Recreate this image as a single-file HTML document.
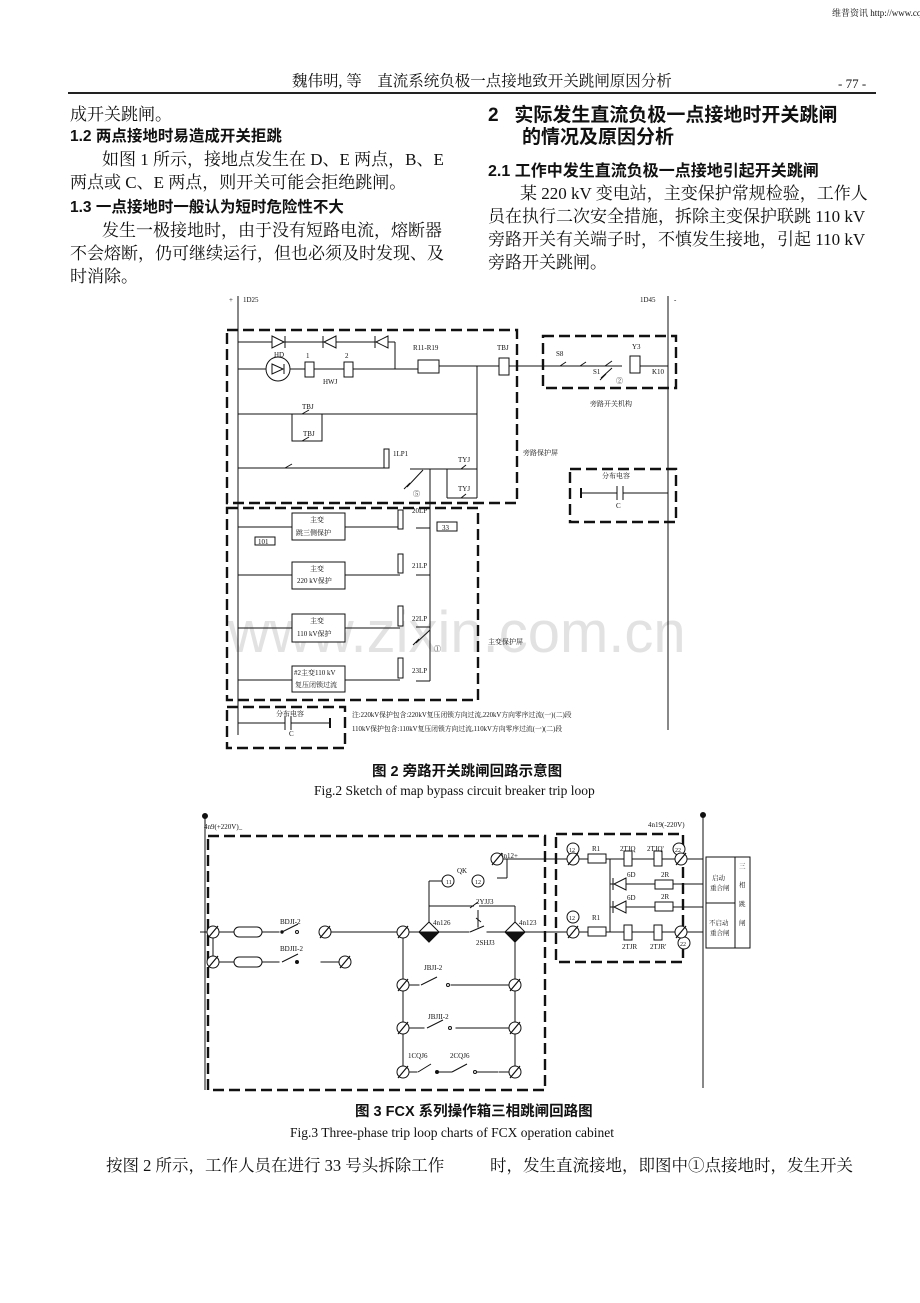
<!DOCTYPE html>
<html><head><meta charset="utf-8"><style>
body{margin:0;background:#fff;width:920px;height:1303px;position:relative;overflow:hidden;font-family:"Liberation Serif","Noto Serif CJK SC",serif;color:#111}
.t{position:absolute;white-space:nowrap;font-size:17px;line-height:20px}
.h{font-family:"Liberation Sans","Noto Sans CJK SC",sans-serif;font-weight:bold}
svg{position:absolute;left:0;top:0}
</style></head><body>
<div class="t" style="left:832px;top:3px;font-size:9px">维普资讯 http://www.cqvip.com</div>
<div class="t" style="left:292px;top:72px;font-size:15.5px">魏伟明, 等&nbsp;&nbsp;&nbsp;&nbsp;直流系统负极一点接地致开关跳闸原因分析</div>
<div class="t" style="left:838px;top:74px;font-size:13px">- 77 -</div>
<div style="position:absolute;left:68px;top:92px;width:808px;height:2px;background:#222"></div>

<div class="t" style="left:70px;top:105px">成开关跳闸。</div>
<div class="t h" style="left:70px;top:127px;font-size:15.5px">1.2 两点接地时易造成开关拒跳</div>
<div class="t" style="left:102px;top:150px">如图 1 所示，接地点发生在 D、E 两点，B、E</div>
<div class="t" style="left:70px;top:173px">两点或 C、E 两点，则开关可能会拒绝跳闸。</div>
<div class="t h" style="left:70px;top:198px;font-size:15.5px">1.3 一点接地时一般认为短时危险性不大</div>
<div class="t" style="left:102px;top:221px">发生一极接地时，由于没有短路电流，熔断器</div>
<div class="t" style="left:70px;top:244px">不会熔断，仍可继续运行，但也必须及时发现、及</div>
<div class="t" style="left:70px;top:267px">时消除。</div>

<div class="t h" style="left:488px;top:104px;font-size:19px;line-height:23px">2&nbsp;&nbsp;&nbsp;实际发生直流负极一点接地时开关跳闸</div>
<div class="t h" style="left:522px;top:126px;font-size:19px;line-height:23px">的情况及原因分析</div>
<div class="t h" style="left:488px;top:162px;font-size:16px">2.1 工作中发生直流负极一点接地引起开关跳闸</div>
<div class="t" style="left:520px;top:184px">某 220 kV 变电站，主变保护常规检验，工作人</div>
<div class="t" style="left:488px;top:207px">员在执行二次安全措施，拆除主变保护联跳 110 kV</div>
<div class="t" style="left:488px;top:230px">旁路开关有关端子时，不慎发生接地，引起 110 kV</div>
<div class="t" style="left:488px;top:253px">旁路开关跳闸。</div>

<div class="t" style="left:228px;top:600px;font-size:58px;line-height:66px;color:#e2e2e2;font-family:'Liberation Sans',sans-serif">www.zixin.com.cn</div>

<svg width="920" height="1303" viewBox="0 0 920 1303" font-family="Liberation Serif, Noto Serif CJK SC, serif" font-size="7" fill="none" stroke="#111" stroke-width="1">
<line x1="238" y1="296" x2="238" y2="735"/>
<line x1="668" y1="296" x2="668" y2="730"/>
<g fill="#111" stroke="none">
<text x="229" y="302">+</text><text x="243" y="302">1D25</text><text x="640" y="302">1D45</text><text x="674" y="302">-</text>
</g>
<g stroke-width="2.4" stroke-dasharray="11,5">
<rect x="227" y="330" width="290" height="173"/>
<rect x="543" y="336" width="133" height="52"/>
<rect x="570" y="469" width="106" height="53"/>
<rect x="227" y="508" width="251" height="192"/>
<rect x="227" y="707" width="118" height="41"/>
<rect x="208" y="836" width="337" height="254"/>
<rect x="556" y="834" width="127" height="128"/>
</g>
<line x1="238" y1="342" x2="395" y2="342"/>
<line x1="395" y1="342" x2="395" y2="369"/>
<g fill="#fff"><path d="M272 336 L284 342 L272 348 Z"/><path d="M336 336 L324 342 L336 348 Z"/><path d="M388 336 L376 342 L388 348 Z"/></g>
<line x1="285" y1="336" x2="285" y2="348"/><line x1="323" y1="336" x2="323" y2="348"/><line x1="375" y1="336" x2="375" y2="348"/>
<line x1="238" y1="369" x2="420" y2="369"/>
<circle cx="278" cy="369" r="12" fill="#fff"/>
<path d="M272 364 L283 369 L272 374 Z"/><line x1="284" y1="364" x2="284" y2="374"/>
<rect x="305" y="362" width="9" height="15" fill="#fff"/><rect x="344" y="362" width="9" height="15" fill="#fff"/>
<rect x="418" y="360" width="21" height="13" fill="#fff"/>
<line x1="439" y1="366" x2="500" y2="366"/>
<rect x="499" y="358" width="10" height="17" fill="#fff"/>
<line x1="509" y1="366" x2="551" y2="366"/>
<line x1="551" y1="366" x2="622" y2="366"/>
<rect x="630" y="356" width="10" height="17" fill="#fff"/>
<line x1="640" y1="366" x2="668" y2="366"/>
<line x1="560" y1="366" x2="566" y2="362"/><line x1="580" y1="366" x2="586" y2="362"/><line x1="605" y1="366" x2="612" y2="361"/>
<line x1="612" y1="368" x2="601" y2="378"/><line x1="600" y1="380" x2="606" y2="374"/>
<g fill="#111" stroke="none">
<text x="274" y="357">HD</text><text x="306" y="358">1</text><text x="345" y="358">2</text><text x="323" y="384">HWJ</text>
<text x="413" y="350">R11-R19</text><text x="497" y="350">TBJ</text>
<text x="556" y="356">S8</text><text x="632" y="349">Y3</text><text x="593" y="374">S1</text><text x="652" y="374">K10</text><text x="616" y="383">②</text>
<text x="590" y="406">旁路开关机构</text><text x="523" y="455">旁路保护屏</text>
</g>
<line x1="477" y1="366" x2="477" y2="470"/>
<line x1="238" y1="414" x2="477" y2="414"/>
<rect x="292" y="414" width="30" height="27"/>
<line x1="302" y1="414" x2="309" y2="410"/><line x1="302" y1="441" x2="309" y2="437"/>
<g fill="#111" stroke="none"><text x="302" y="409">TBJ</text><text x="303" y="436">TBJ</text></g>
<line x1="238" y1="468" x2="386" y2="468"/>
<line x1="285" y1="468" x2="292" y2="464"/>
<rect x="384" y="449" width="5" height="19" fill="#fff"/>
<line x1="410" y1="469" x2="477" y2="469"/>
<line x1="430" y1="469" x2="430" y2="508"/>
<line x1="447" y1="469" x2="447" y2="498"/><line x1="447" y1="498" x2="477" y2="498"/><line x1="477" y1="469" x2="477" y2="498"/>
<line x1="461" y1="469" x2="466" y2="465"/><line x1="461" y1="498" x2="466" y2="494"/>
<line x1="423" y1="470" x2="407" y2="487"/><line x1="404" y1="489" x2="410" y2="483"/>
<g fill="#111" stroke="none"><text x="393" y="456">1LP1</text><text x="458" y="462">TYJ</text><text x="458" y="491">TYJ</text><text x="413" y="496">⑤</text></g>
<line x1="581" y1="493" x2="617" y2="493"/><line x1="623" y1="493" x2="668" y2="493"/>
<line x1="617" y1="486" x2="617" y2="500"/><line x1="623" y1="486" x2="623" y2="500"/>
<line x1="581" y1="488" x2="581" y2="498" stroke-width="2"/>
<g fill="#111" stroke="none"><text x="602" y="478">分布电容</text><text x="616" y="508">C</text></g>
<g fill="#fff">
<rect x="292" y="513" width="53" height="27"/><rect x="292" y="562" width="53" height="27"/><rect x="292" y="614" width="53" height="28"/><rect x="292" y="666" width="53" height="26"/>
<rect x="255" y="537" width="20" height="8"/><rect x="437" y="522" width="20" height="9"/>
</g>
<line x1="238" y1="527" x2="292" y2="527"/><line x1="345" y1="527" x2="400" y2="527"/>
<line x1="238" y1="575" x2="292" y2="575"/><line x1="345" y1="575" x2="400" y2="575"/>
<line x1="238" y1="628" x2="292" y2="628"/><line x1="345" y1="628" x2="400" y2="628"/>
<line x1="238" y1="680" x2="292" y2="680"/><line x1="345" y1="680" x2="400" y2="680"/>
<g fill="#fff"><rect x="398" y="510" width="5" height="19"/><rect x="398" y="554" width="5" height="19"/><rect x="398" y="606" width="5" height="20"/><rect x="398" y="658" width="5" height="20"/></g>
<line x1="430" y1="508" x2="430" y2="681"/>
<line x1="416" y1="528" x2="430" y2="528"/><line x1="416" y1="575" x2="430" y2="575"/><line x1="416" y1="627" x2="430" y2="627"/><line x1="416" y1="681" x2="430" y2="681"/>
<line x1="430" y1="630" x2="416" y2="643"/><line x1="413" y1="645" x2="419" y2="639"/>
<g fill="#111" stroke="none" font-size="7">
<text x="310" y="522">主变</text><text x="296" y="535">跳三侧保护</text>
<text x="310" y="571">主变</text><text x="297" y="583">220 kV保护</text>
<text x="310" y="623">主变</text><text x="297" y="636">110 kV保护</text>
<text x="294" y="675">#2主变110 kV</text><text x="295" y="687">复压闭锁过流</text>
<text x="258" y="544">101</text><text x="442" y="530">33</text>
<text x="412" y="513">20LP</text><text x="412" y="568">21LP</text><text x="412" y="621">22LP</text><text x="412" y="673">23LP</text>
<text x="434" y="651">①</text><text x="488" y="644">主变保护屏</text>
<text x="276" y="716">分布电容</text><text x="289" y="736">C</text>
<text x="352" y="717" font-size="6.8">注:220kV保护包含:220kV复压闭锁方向过流,220kV方向零序过流(一)(二)段</text>
<text x="352" y="731" font-size="6.8">110kV保护包含:110kV复压闭锁方向过流,110kV方向零序过流(一)(二)段</text>
</g>
<line x1="238" y1="723" x2="285" y2="723"/><line x1="291" y1="723" x2="330" y2="723"/>
<line x1="285" y1="716" x2="285" y2="730"/><line x1="291" y1="716" x2="291" y2="730"/>
<line x1="330" y1="718" x2="330" y2="728" stroke-width="2"/>

<line x1="205" y1="816" x2="205" y2="1090"/><circle cx="205" cy="816" r="2.5" fill="#111"/>
<line x1="703" y1="815" x2="703" y2="1088"/><circle cx="703" cy="815" r="2.5" fill="#111"/>
<g fill="#111" stroke="none" font-size="7"><text x="204" y="829">4n9(+220V)_</text><text x="648" y="827">4n19(-220V)</text></g>
<line x1="200" y1="932" x2="703" y2="932"/>
<line x1="213" y1="932" x2="213" y2="962"/><line x1="213" y1="962" x2="345" y2="962"/>
<g fill="#fff">
<rect x="234" y="927" width="28" height="10" rx="5"/><rect x="234" y="957" width="28" height="10" rx="5"/>
</g>
<rect x="280" y="929" width="40" height="6" fill="#fff" stroke="#fff"/>
<rect x="280" y="959" width="40" height="6" fill="#fff" stroke="#fff"/>
<line x1="282" y1="932" x2="298" y2="924"/><circle cx="297" cy="932" r="1.5"/><circle cx="282" cy="932" r="1.2" fill="#111"/>
<line x1="282" y1="962" x2="298" y2="954"/><circle cx="297" cy="962" r="1.5" fill="#111"/>
<g fill="#111" stroke="none" font-size="7"><text x="280" y="924">BDJI-2</text><text x="280" y="951">BDJII-2</text></g>
<line x1="403" y1="932" x2="403" y2="1072"/><line x1="515" y1="932" x2="515" y2="1072"/>
<line x1="403" y1="985" x2="515" y2="985"/><line x1="403" y1="1028" x2="515" y2="1028"/><line x1="403" y1="1072" x2="515" y2="1072"/>
<rect x="420" y="981" width="30" height="8" fill="#fff" stroke="#fff"/>
<line x1="421" y1="985" x2="437" y2="977"/><circle cx="448" cy="985" r="1.5" fill="#fff"/>
<rect x="425" y="1024" width="30" height="8" fill="#fff" stroke="#fff"/>
<line x1="427" y1="1028" x2="443" y2="1020"/><circle cx="450" cy="1028" r="1.5" fill="#fff"/>
<rect x="418" y="1068" width="80" height="8" fill="#fff" stroke="#fff"/>
<line x1="418" y1="1072" x2="431" y2="1064"/><circle cx="437" cy="1072" r="1.5" fill="#111"/><line x1="437" y1="1072" x2="452" y2="1072"/>
<line x1="452" y1="1072" x2="467" y2="1064"/><circle cx="475" cy="1072" r="1.5" fill="#fff"/><line x1="476" y1="1072" x2="498" y2="1072"/>
<g fill="#111" stroke="none" font-size="7"><text x="424" y="970">JBJI-2</text><text x="428" y="1019">JBJII-2</text><text x="408" y="1058">1CQJ6</text><text x="450" y="1058">2CQJ6</text></g>
<line x1="429" y1="881" x2="429" y2="932"/><line x1="429" y1="881" x2="442" y2="881"/>
<line x1="429" y1="906" x2="474" y2="906"/><line x1="479" y1="906" x2="515" y2="906"/><line x1="515" y1="906" x2="515" y2="932"/>
<line x1="470" y1="908" x2="478" y2="902"/>
<line x1="478" y1="910" x2="478" y2="932"/><line x1="476" y1="918" x2="481" y2="922"/>
<rect x="470" y="928" width="16" height="6" fill="#fff" stroke="#fff"/>
<line x1="470" y1="932" x2="484" y2="926"/>
<circle cx="448" cy="881" r="6" fill="#fff"/><circle cx="478" cy="881" r="6" fill="#fff"/>
<g fill="#111" stroke="none" font-size="7"><text x="446" y="884" font-size="6">11</text><text x="475" y="884" font-size="6">12</text><text x="457" y="873">QK</text><text x="476" y="904">2YJJ3</text><text x="476" y="945">2SHJ3</text><text x="433" y="925">4n126</text><text x="519" y="925">4n123</text><text x="500" y="858">4n12+</text></g>
<path d="M419 932 L429 922 L439 932 L429 942 Z" fill="#fff"/><path d="M419 932 L439 932 L429 942 Z" fill="#111"/>
<path d="M505 932 L515 922 L525 932 L515 942 Z" fill="#fff"/><path d="M505 932 L525 932 L515 942 Z" fill="#111"/>
<line x1="497" y1="859" x2="703" y2="859"/><line x1="507" y1="859" x2="507" y2="878"/><line x1="497" y1="878" x2="507" y2="878"/>
<g fill="#fff">
<rect x="588" y="854" width="18" height="9"/><rect x="588" y="927" width="18" height="9"/>
<rect x="624" y="851" width="8" height="15"/><rect x="654" y="851" width="8" height="15"/>
<rect x="624" y="925" width="8" height="15"/><rect x="654" y="925" width="8" height="15"/>
<rect x="655" y="880" width="18" height="9"/><rect x="655" y="902" width="18" height="9"/>
</g>
<line x1="610" y1="859" x2="610" y2="932"/>
<line x1="610" y1="884" x2="655" y2="884"/><line x1="673" y1="884" x2="703" y2="884"/>
<line x1="610" y1="907" x2="655" y2="907"/><line x1="673" y1="907" x2="703" y2="907"/>
<path d="M626 878 L614 884 L626 890 Z" fill="#fff"/><line x1="613" y1="878" x2="613" y2="890"/>
<path d="M626 901 L614 907 L626 913 Z" fill="#fff"/><line x1="613" y1="901" x2="613" y2="913"/>
<g fill="#fff"><circle cx="573" cy="849" r="6"/><circle cx="573" cy="917" r="6"/><circle cx="679" cy="849" r="6"/><circle cx="684" cy="943" r="6"/></g>
<g fill="#111" stroke="none" font-size="7">
<text x="569" y="852" font-size="6">12</text><text x="569" y="920" font-size="6">12</text><text x="675" y="852" font-size="6">22</text><text x="680" y="946" font-size="6">22</text>
<text x="592" y="851">R1</text><text x="592" y="920">R1</text><text x="620" y="851">2TJQ</text><text x="647" y="851">2TJQ'</text>
<text x="627" y="877">6D</text><text x="627" y="900">6D</text><text x="661" y="877">2R</text><text x="661" y="899">2R</text>
<text x="622" y="949">2TJR</text><text x="650" y="949">2TJR'</text>
</g>
<g fill="#fff">
<circle cx="213" cy="932" r="6"/><circle cx="213" cy="962" r="6"/><circle cx="325" cy="932" r="6"/><circle cx="345" cy="962" r="6"/><circle cx="403" cy="932" r="6"/>
<circle cx="403" cy="985" r="6"/><circle cx="515" cy="985" r="6"/><circle cx="403" cy="1028" r="6"/><circle cx="515" cy="1028" r="6"/><circle cx="403" cy="1072" r="6"/><circle cx="515" cy="1072" r="6"/>
<circle cx="497" cy="859" r="6"/><circle cx="573" cy="859" r="6"/><circle cx="573" cy="932" r="6"/><circle cx="681" cy="859" r="6"/><circle cx="681" cy="932" r="6"/>
</g>
<g stroke-width="1.2">
<path d="M208 938 L218 926 M208 968 L218 956 M320 938 L330 926 M340 968 L350 956 M398 938 L408 926 M398 991 L408 979 M510 991 L520 979 M398 1034 L408 1022 M510 1034 L520 1022 M398 1078 L408 1066 M510 1078 L520 1066 M492 865 L502 853 M568 865 L578 853 M568 938 L578 926 M676 865 L686 853 M676 938 L686 926"/>
</g>
<rect x="706" y="857" width="44" height="91" fill="#fff"/>
<line x1="735" y1="857" x2="735" y2="948"/><line x1="706" y1="903" x2="735" y2="903"/>
<g fill="#111" stroke="none" font-size="6.5">
<text x="712" y="880">启动</text><text x="710" y="890">重合闸</text><text x="709" y="925">不启动</text><text x="710" y="935">重合闸</text>
<text x="739" y="868">三</text><text x="739" y="887">相</text><text x="739" y="906">跳</text><text x="739" y="925">闸</text>
</g>
</svg>

<div class="t h" style="left:372px;top:764px;font-size:14.5px;line-height:17px">图 2 旁路开关跳闸回路示意图</div>
<div class="t" style="left:314px;top:783px;font-size:13.5px;line-height:16px">Fig.2 Sketch of map bypass circuit breaker trip loop</div>
<div class="t h" style="left:355px;top:1104px;font-size:14.5px;line-height:17px">图 3 FCX 系列操作箱三相跳闸回路图</div>
<div class="t" style="left:290px;top:1125px;font-size:13.5px;line-height:16px">Fig.3 Three-phase trip loop charts of FCX operation cabinet</div>
<div class="t" style="left:106px;top:1156px;font-size:16.5px">按图 2 所示，工作人员在进行 33 号头拆除工作</div>
<div class="t" style="left:490px;top:1156px;font-size:16.5px">时，发生直流接地，即图中①点接地时，发生开关</div>
</body></html>
